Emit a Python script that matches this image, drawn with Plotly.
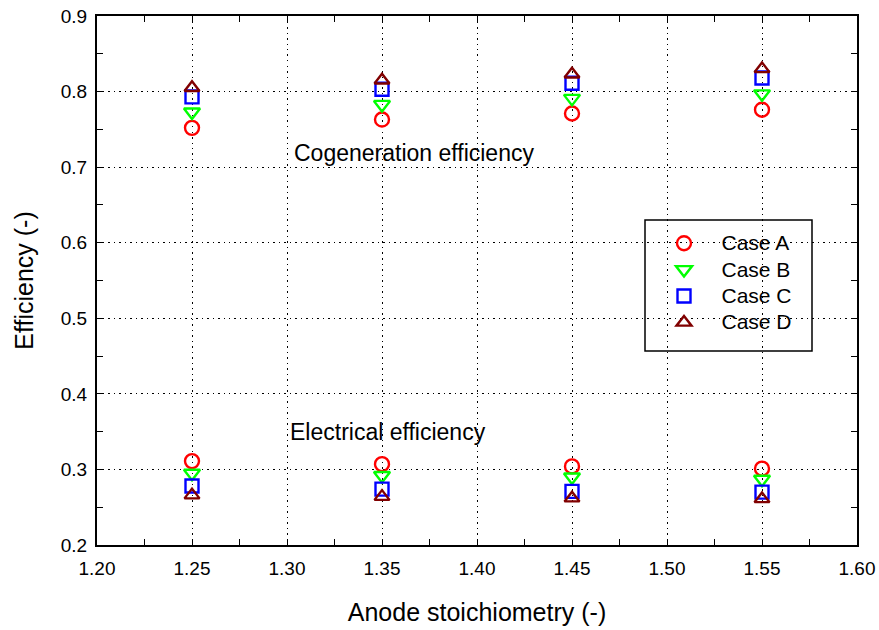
import plotly.graph_objects as go

x_vals = [1.25, 1.35, 1.45, 1.55]

cog_A = [0.752, 0.763, 0.771, 0.776]
cog_B = [0.773, 0.783, 0.791, 0.797]
cog_C = [0.793, 0.803, 0.811, 0.818]
cog_D = [0.805, 0.815, 0.823, 0.830]

ele_A = [0.311, 0.307, 0.304, 0.301]
ele_B = [0.295, 0.292, 0.290, 0.287]
ele_C = [0.278, 0.274, 0.271, 0.270]
ele_D = [0.266, 0.264, 0.262, 0.261]

cases = ["Case A", "Case B", "Case C", "Case D"]
colors = ["#ff0000", "#00ff00", "#0000ff", "#800000"]
symbols = ["circle-open", "triangle-down-open", "square-open", "triangle-up-open"]
sizes = [14, 14, 13, 13]

cog = [cog_A, cog_B, cog_C, cog_D]
ele = [ele_A, ele_B, ele_C, ele_D]

fig = go.Figure()
for i, name in enumerate(cases):
    fig.add_trace(go.Scatter(
        x=x_vals + x_vals, y=cog[i] + ele[i], mode="markers",
        name='<span style="font-size:21px">\u00a0\u00a0\u00a0' + name + "</span>",
        marker=dict(symbol=symbols[i], size=sizes[i], color=colors[i],
                    line=dict(width=2.4, color=colors[i])),
    ))

font = "Liberation Sans, Arial, sans-serif"
axis_common = dict(
    showline=True, linecolor="black", linewidth=2, mirror="allticks",
    ticks="inside", ticklen=6, tickcolor="black", tickwidth=1,
    showgrid=True, gridcolor="black", gridwidth=1, griddash="1.5px,4px",
    zeroline=False, tickfont=dict(size=19, color="black", family=font),
    automargin=False,
)

fig.update_xaxes(range=[1.2, 1.6], tickvals=[1.2, 1.25, 1.3, 1.35, 1.4, 1.45, 1.5, 1.55, 1.6],
                 ticktext=["1.20", "1.25", "1.30", "1.35", "1.40", "1.45", "1.50", "1.55", "1.60"],
                 minor=dict(ticks="inside", ticklen=6, tickvals=[1.225, 1.275, 1.325, 1.375, 1.425,
                                                                 1.475, 1.525, 1.575],
                            tickcolor="black", showgrid=False),
                 ticklabelstandoff=5,
                 title=dict(text="Anode stoichiometry (-)", font=dict(size=25, color="black", family=font),
                            standoff=26),
                 **axis_common)
fig.update_yaxes(range=[0.2, 0.9], dtick=0.1, tickformat=".1f",
                 minor=dict(ticks="inside", ticklen=6, dtick=0.05, tickcolor="black", showgrid=False),
                 ticklabelstandoff=4,
                 title=dict(text="Efficiency (-)", font=dict(size=25, color="black", family=font),
                            standoff=20),
                 **axis_common)

fig.add_annotation(x=1.367, y=0.719, xref="x", yref="y", text="Cogeneration efficiency",
                   showarrow=False, font=dict(size=23, color="black", family=font))
fig.add_annotation(x=1.353, y=0.350, xref="x", yref="y", text="Electrical efficiency",
                   showarrow=False, font=dict(size=23, color="black", family=font))

L, R, T, B = 97, 857, 16, 545
pw, ph = R - L, B - T

# legend box
fig.add_shape(type="rect", xref="paper", yref="paper",
              x0=(645 - L) / pw, x1=(812 - L) / pw,
              y0=(B - 351) / ph, y1=(B - 220) / ph,
              line=dict(color="black", width=1.5), fillcolor="white", layer="below")

fig.update_layout(
    width=879, height=630,
    margin=dict(l=L, r=879 - R, t=T, b=630 - B),
    paper_bgcolor="white", plot_bgcolor="white",
    font=dict(family=font, color="black"),
    legend=dict(x=(664 - L) / pw, y=(B - 225) / ph, xanchor="left", yanchor="top",
                bgcolor="rgba(0,0,0,0)", borderwidth=0,
                font=dict(size=18, color="black", family=font), tracegroupgap=0),
)

fig.write_html("out.html")
